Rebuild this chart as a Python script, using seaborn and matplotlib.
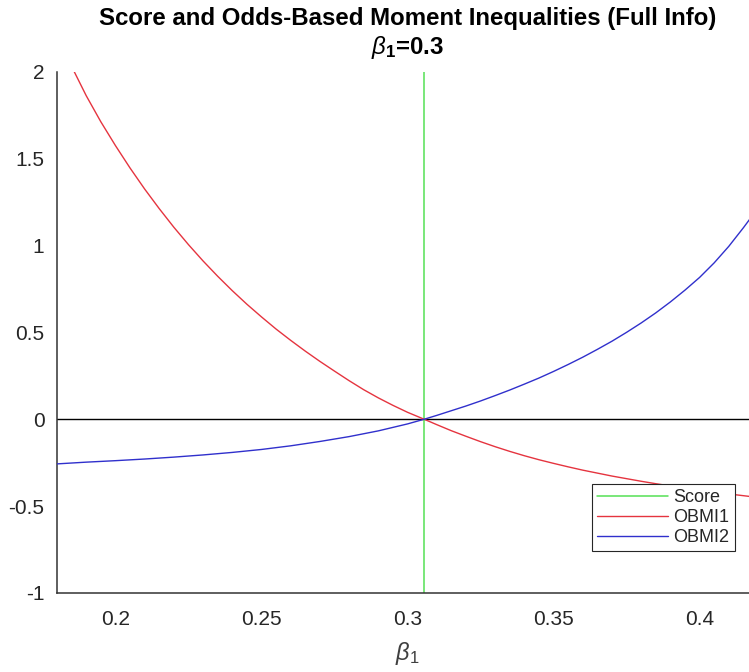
import numpy as np
import pandas as pd
import matplotlib
matplotlib.use("Agg")
import matplotlib.pyplot as plt
import seaborn as sns

# ---- data ----
score_x = [0.3057, 0.3057]
score_y = [-1.0, 2.0]

obmi1_x = [0.1859, 0.1900, 0.1950, 0.2000, 0.2050, 0.2100, 0.2150, 0.2200, 0.2250,
           0.2300, 0.2350, 0.2400, 0.2450, 0.2500, 0.2550, 0.2600, 0.2650, 0.2700,
           0.2750, 0.2800, 0.2850, 0.2900, 0.2950, 0.3000, 0.3057, 0.3100, 0.3150,
           0.3200, 0.3250, 0.3300, 0.3350, 0.3400, 0.3450, 0.3500, 0.3550, 0.3600,
           0.3650, 0.3700, 0.3750, 0.3800, 0.3850, 0.3900, 0.3950, 0.4000, 0.4050,
           0.4100, 0.4150, 0.4200]
obmi1_y = [2.000, 1.862, 1.712, 1.575, 1.446, 1.325, 1.212, 1.105, 1.005,
           0.911, 0.823, 0.740, 0.662, 0.589, 0.519, 0.454, 0.392, 0.333,
           0.277, 0.222, 0.170, 0.123, 0.080, 0.040, 0.000, -0.031, -0.066,
           -0.098, -0.129, -0.158, -0.185, -0.210, -0.233, -0.254, -0.274, -0.293,
           -0.310, -0.327, -0.342, -0.357, -0.371, -0.384, -0.396, -0.408, -0.419,
           -0.430, -0.440, -0.450]

obmi2_x = [0.1800, 0.1900, 0.2000, 0.2100, 0.2200, 0.2300, 0.2400, 0.2500, 0.2600,
           0.2700, 0.2800, 0.2900, 0.3000, 0.3057, 0.3100, 0.3150, 0.3200, 0.3250,
           0.3300, 0.3350, 0.3400, 0.3450, 0.3500, 0.3550, 0.3600, 0.3650, 0.3700,
           0.3750, 0.3800, 0.3850, 0.3900, 0.3950, 0.4000, 0.4050, 0.4100, 0.4150,
           0.4200]
obmi2_y = [-0.257, -0.247, -0.2385, -0.229, -0.218, -0.2055, -0.191, -0.174, -0.153,
           -0.128, -0.100, -0.067, -0.027, 0.000, 0.022, 0.049, 0.076, 0.105,
           0.136, 0.168, 0.202, 0.237, 0.275, 0.315, 0.357, 0.402, 0.449,
           0.500, 0.554, 0.612, 0.675, 0.743, 0.816, 0.900, 0.995, 1.102,
           1.215]

x_ticks = [0.2, 0.25, 0.3, 0.35, 0.4]
x_tick_labels = ["0.2", "0.25", "0.3", "0.35", "0.4"]
y_ticks = [-1, -0.5, 0, 0.5, 1, 1.5, 2]
y_tick_labels = ["-1", "-0.5", "0", "0.5", "1", "1.5", "2"]

title_text = "Score and Odds-Based Moment Inequalities (Full Info)\n$\\beta_\\mathbf{1}$=0.3"

# ---- style ----
sns.set_theme(style="white")
plt.rcParams["font.family"] = ["Liberation Sans", "DejaVu Sans"]
plt.rcParams["mathtext.fontset"] = "custom"
plt.rcParams["mathtext.rm"] = "Liberation Sans"
plt.rcParams["mathtext.it"] = "Liberation Sans:italic"
plt.rcParams["mathtext.bf"] = "Liberation Sans:bold"

W, H = 749, 672
fig = plt.figure(figsize=(W / 100, H / 100), dpi=100)
left_px, right_px, top_px, bot_px = 57, 758, 71.7, 593
ax = fig.add_axes([left_px / W, 1 - bot_px / H, (right_px - left_px) / W, (bot_px - top_px) / H])

axis_col = "#333333"
df_s = pd.DataFrame({"x": score_x, "y": score_y})
df_1 = pd.DataFrame({"x": obmi1_x, "y": obmi1_y})
df_2 = pd.DataFrame({"x": obmi2_x, "y": obmi2_y})

ax.axhline(0, color="black", lw=1.0, zorder=1)
sns.lineplot(data=df_s, x="x", y="y", ax=ax, color="#55e055", lw=1.1,
             estimator=None, sort=False, label="Score", zorder=2)
sns.lineplot(data=df_1, x="x", y="y", ax=ax, color="#e5343f", lw=1.0,
             estimator=None, sort=False, label="OBMI1", zorder=3)
sns.lineplot(data=df_2, x="x", y="y", ax=ax, color="#3030cc", lw=1.0,
             estimator=None, sort=False, label="OBMI2", zorder=3)

ax.set_xlim(0.18, 0.42)
ax.set_ylim(-1, 2)
ax.set_xticks(x_ticks)
ax.set_xticklabels(x_tick_labels)
ax.set_yticks(y_ticks)
ax.set_yticklabels(y_tick_labels)

for s in ["top", "right"]:
    ax.spines[s].set_visible(False)
for s in ["left", "bottom"]:
    ax.spines[s].set_color(axis_col)
    ax.spines[s].set_linewidth(1.1)

ax.tick_params(axis="both", direction="in", length=5, width=0.8, color=axis_col,
               labelcolor="#262626", labelsize=15)
ax.tick_params(axis="y", pad=9)
ax.tick_params(axis="x", pad=12)

ax.set_xlabel(r"$\beta_1$", fontsize=17, color="#404040", labelpad=8)
ax.set_ylabel("")
ax.set_title(title_text, fontsize=17.3, fontweight="bold", color="black",
             pad=13, linespacing=1.2)

leg = ax.legend(loc="upper left", bbox_to_anchor=(592 / W, 1 - 484 / H),
                bbox_transform=fig.transFigure, borderaxespad=0,
                fontsize=13, frameon=True, fancybox=False, framealpha=1,
                edgecolor="#262626", handlelength=3.9, handletextpad=0.3,
                labelspacing=0.15, borderpad=0.3)
leg.get_frame().set_linewidth(0.8)

fig.savefig("out.png", dpi=100)
